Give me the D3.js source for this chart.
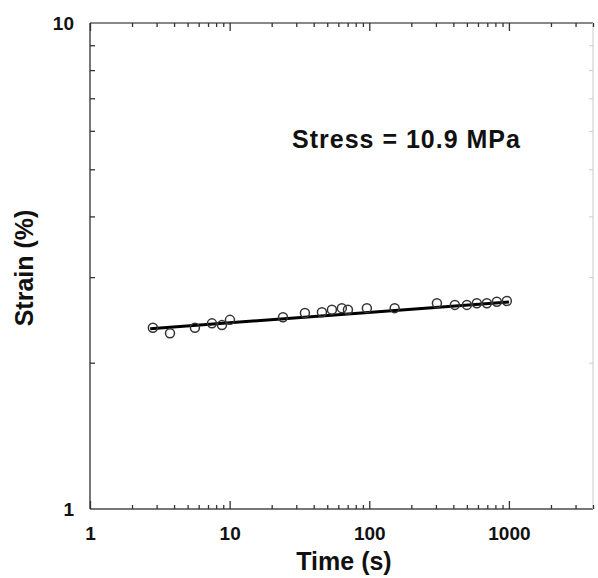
<!DOCTYPE html>
<html>
<head>
<meta charset="utf-8">
<script src="https://cdn.jsdelivr.net/npm/d3@7"></script>
<style>
  body { margin: 0; background: #fff; }
  text { font-family: "Liberation Sans", Arial, sans-serif; font-weight: bold; fill: #111; }
</style>
</head>
<body>
<svg id="chart" width="598" height="578"></svg>
<script>
// measured creep points (time in s, strain in %)
const timeValues = [2.82, 3.74, 5.64, 7.47, 8.81, 10.05, 24.1, 34.6, 45.8, 54.0, 63.6, 70.3, 96.1,
    152, 305, 410, 500, 589, 695, 819, 966];
const strainValues = [2.36, 2.30, 2.36, 2.41, 2.39, 2.45, 2.48, 2.53, 2.54, 2.57, 2.59, 2.57, 2.59,
    2.59, 2.65, 2.63, 2.63, 2.65, 2.65, 2.67, 2.68];

// fitted power-law line end points
const fitTime = [2.7, 1000];
const fitStrain = [2.35, 2.665];

const xMajorTicks = [1, 10, 100, 1000];
const yMajorTicks = [1, 10];
const annotation = "Stress = 10.9 MPa";

const svg = d3.select("#chart");
const margin = { top: 23, right: 5, bottom: 69, left: 90 };
const width = +svg.attr("width");
const height = +svg.attr("height");

const x = d3.scaleLog().domain([1, 4000]).range([margin.left, width - margin.right]);
const y = d3.scaleLog().domain([1, 10]).range([height - margin.bottom, margin.top]);

// minor tick positions per decade
function minorTicks(scale) {
    const [lo, hi] = scale.domain();
    const out = [];
    for (let p = Math.floor(Math.log10(lo)); p <= Math.ceil(Math.log10(hi)); p++) {
        for (let m = 2; m <= 9; m++) {
            const v = m * Math.pow(10, p);
            if (v > lo && v <= hi) out.push(v);
        }
    }
    return out;
}

const xMinor = minorTicks(x);
const yMinor = minorTicks(y);
const x0 = x.range()[0], x1 = x.range()[1];
const y0 = y.range()[0], y1 = y.range()[1];

function styleAxis(g) {
    g.select(".domain").remove();
    g.selectAll(".tick line").attr("stroke", "#333").attr("stroke-width", 1.3);
    g.selectAll(".tick text").attr("font-size", 19);
}

// frame
svg.append("line").attr("x1", x0).attr("x2", x1).attr("y1", y0).attr("y2", y0)
    .attr("stroke", "#777").attr("stroke-width", 2);
svg.append("line").attr("x1", x0).attr("x2", x1).attr("y1", y1).attr("y2", y1)
    .attr("stroke", "#888").attr("stroke-width", 2);
svg.append("line").attr("x1", x0).attr("x2", x0).attr("y1", y0).attr("y2", y1)
    .attr("stroke", "#777").attr("stroke-width", 2);
svg.append("line").attr("x1", x1).attr("x2", x1).attr("y1", y0).attr("y2", y1)
    .attr("stroke", "#ddd").attr("stroke-width", 1.5);

// bottom axis
svg.append("g").attr("transform", `translate(0,${y0})`)
    .call(d3.axisBottom(x).tickValues(xMinor).tickSize(-4).tickFormat(""))
    .call(styleAxis);
svg.append("g").attr("transform", `translate(0,${y0})`)
    .call(d3.axisBottom(x).tickValues(xMajorTicks).tickSize(-8).tickPadding(18).tickFormat(d3.format("d")))
    .call(styleAxis);

// top axis
svg.append("g").attr("transform", `translate(0,${y1})`)
    .call(d3.axisTop(x).tickValues(xMinor).tickSize(-4).tickFormat(""))
    .call(styleAxis);
svg.append("g").attr("transform", `translate(0,${y1})`)
    .call(d3.axisTop(x).tickValues(xMajorTicks).tickSize(-8).tickFormat(""))
    .call(styleAxis);

// left axis
svg.append("g").attr("transform", `translate(${x0},0)`)
    .call(d3.axisLeft(y).tickValues(yMinor).tickSizeInner(-5).tickSizeOuter(0).tickFormat(""))
    .call(styleAxis);
svg.append("g").attr("transform", `translate(${x0},0)`)
    .call(d3.axisLeft(y).tickValues(yMajorTicks).tickSize(0).tickPadding(16).tickFormat(d3.format("d")))
    .call(styleAxis);

// right axis
svg.append("g").attr("transform", `translate(${x1},0)`)
    .call(d3.axisRight(y).tickValues(yMinor).tickSize(-4).tickFormat(""))
    .call(g => { g.select(".domain").remove(); g.selectAll(".tick line").attr("stroke", "#ccc"); });

// fit line
const fitData = fitTime.map((t, i) => ({ t, s: fitStrain[i] }));
svg.append("path")
    .datum(fitData)
    .attr("fill", "none")
    .attr("stroke", "#000")
    .attr("stroke-width", 3)
    .attr("d", d3.line().x(d => x(d.t)).y(d => y(d.s)));

// data points
const points = timeValues.map((t, i) => ({ t, s: strainValues[i] }));
svg.selectAll(".point")
    .data(points)
    .join("circle")
    .attr("class", "point")
    .attr("cx", d => x(d.t))
    .attr("cy", d => y(d.s))
    .attr("r", 4.5)
    .attr("fill", "none")
    .attr("stroke", "#333")
    .attr("stroke-width", 1.5);

// titles
svg.append("text")
    .attr("x", 344).attr("y", 570)
    .attr("text-anchor", "middle")
    .attr("font-size", 25)
    .text("Time (s)");

svg.append("text")
    .attr("transform", "translate(33,268) rotate(-90)")
    .attr("text-anchor", "middle")
    .attr("font-size", 25)
    .text("Strain (%)");

svg.append("text")
    .attr("x", 292).attr("y", 148)
    .attr("font-size", 25)
    .attr("letter-spacing", 1)
    .text(annotation);
</script>
</body>
</html>
